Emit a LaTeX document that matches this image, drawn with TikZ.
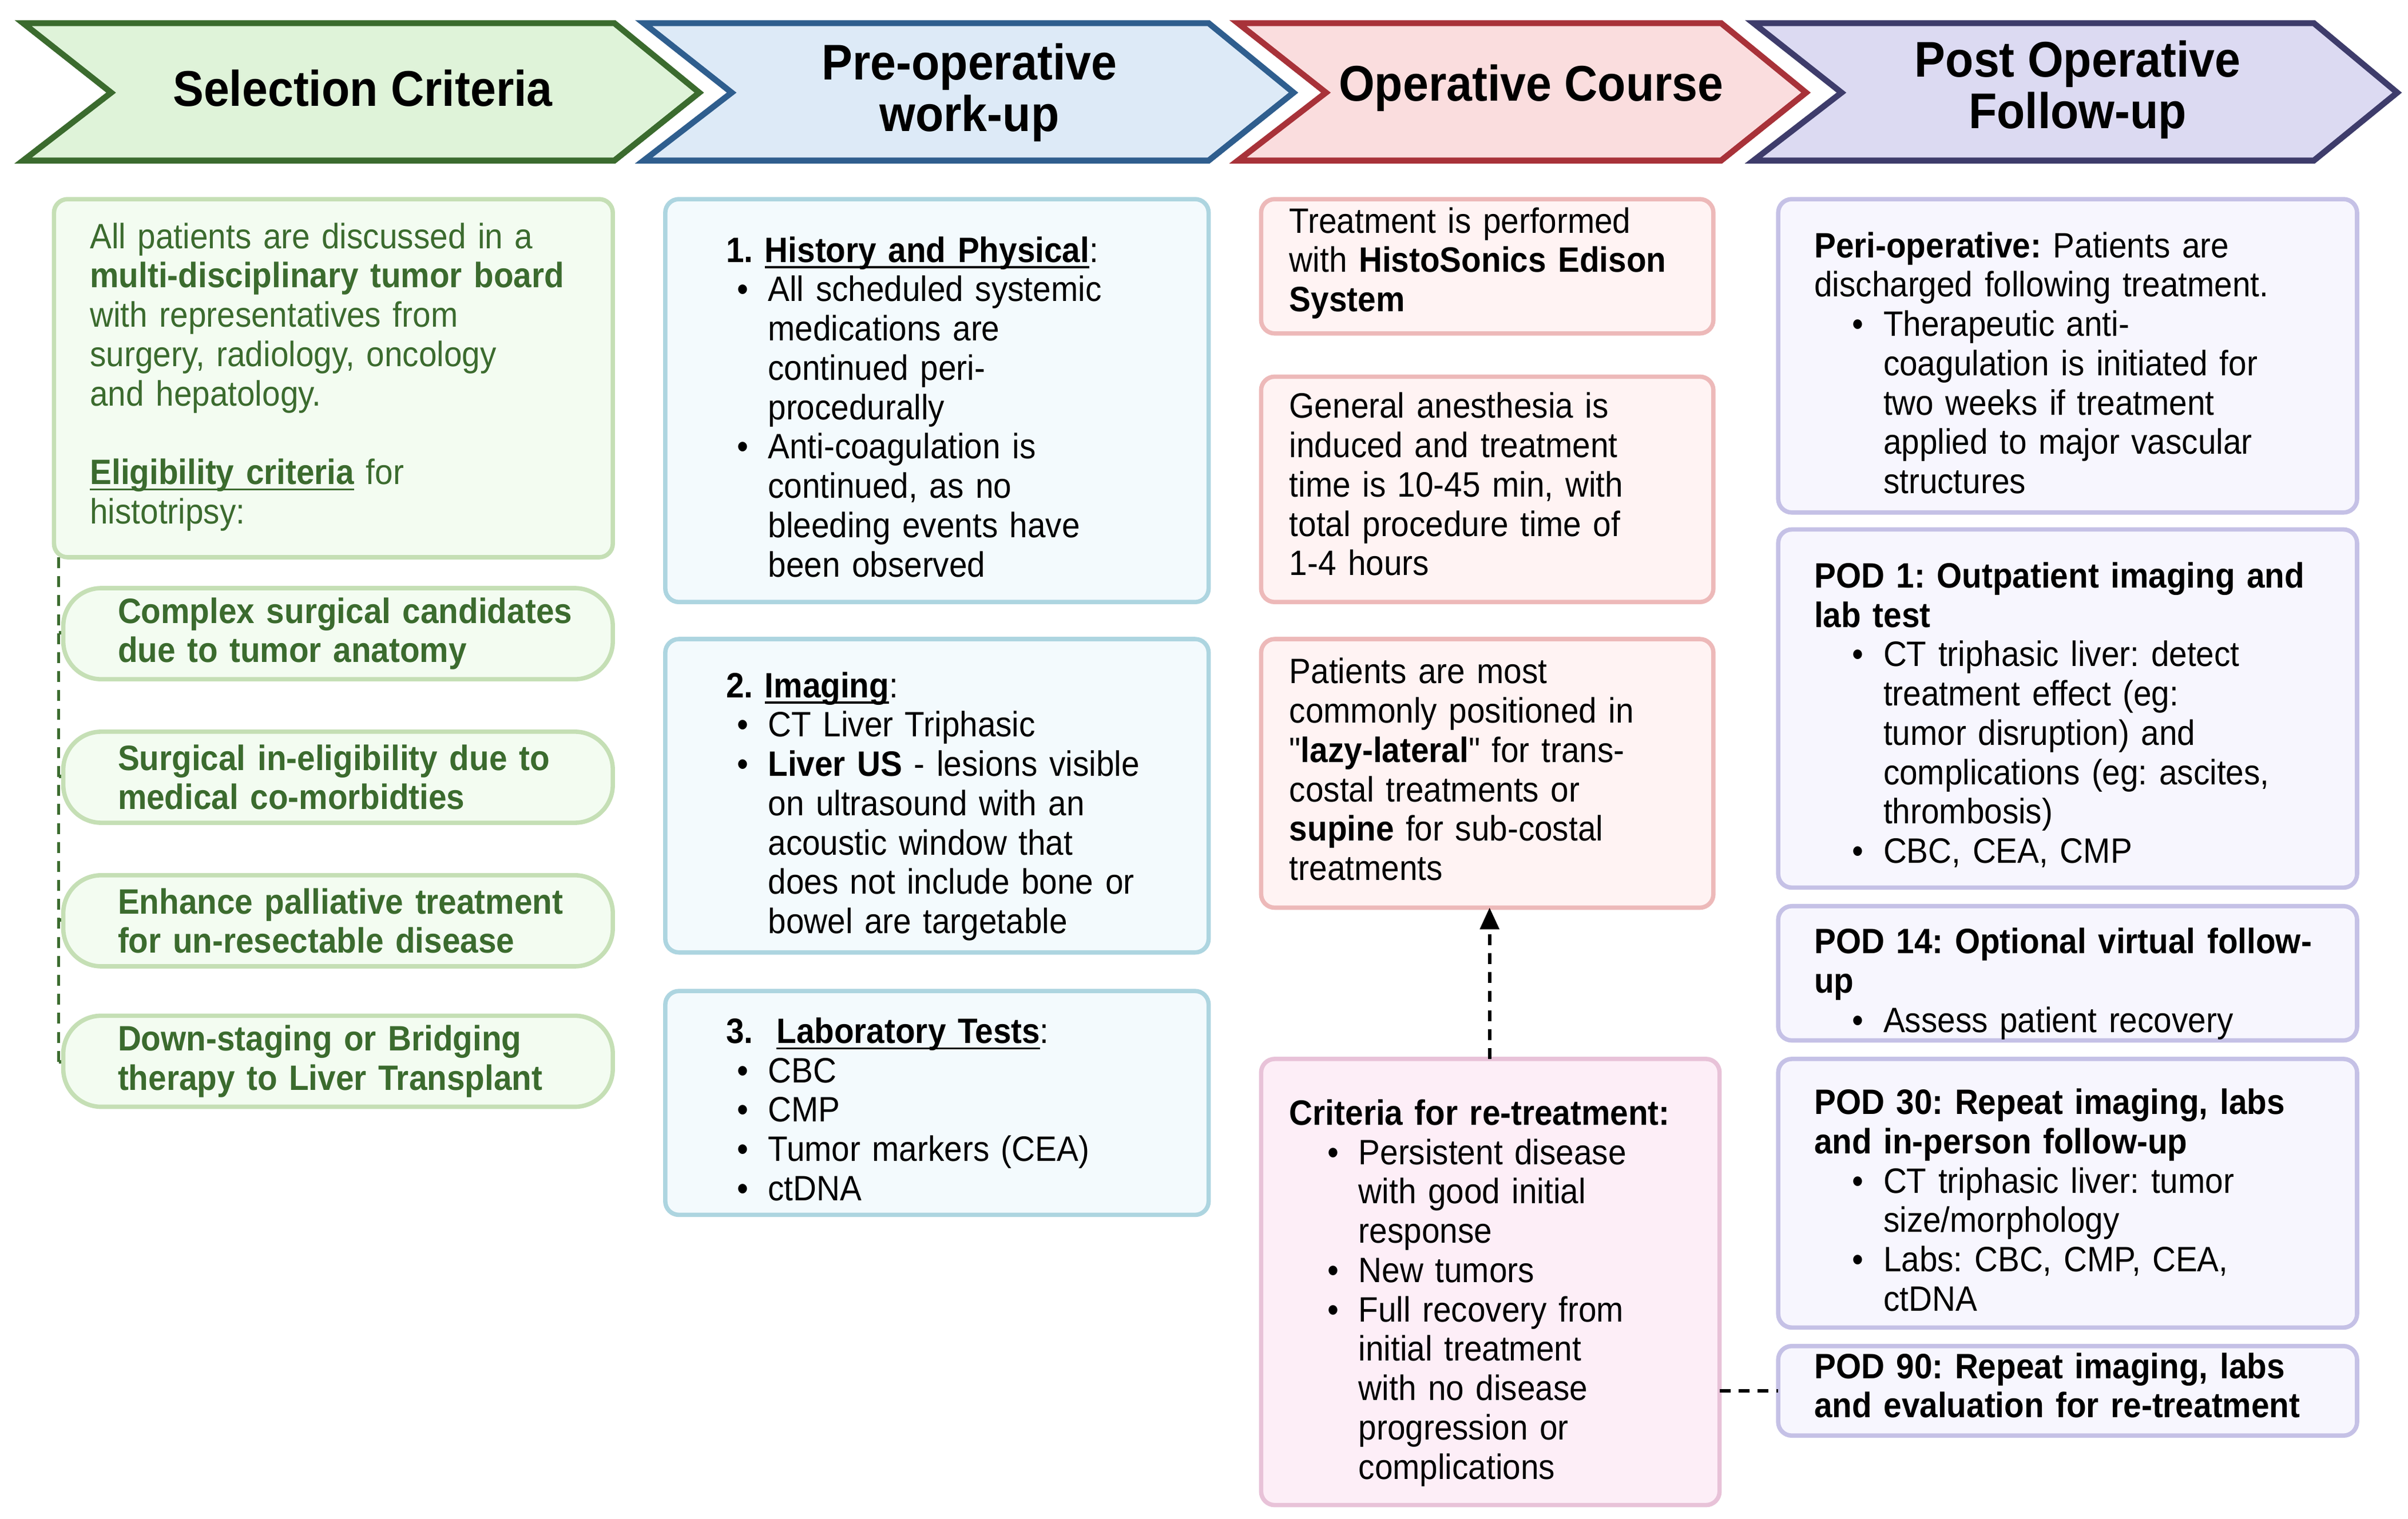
\documentclass[tikz,border=0pt]{standalone}
\usepackage{fontspec}
\setmainfont{Liberation Sans}[FakeStretch=0.92]
\newfontfamily\plainq{Liberation Sans}[FakeStretch=0.92,Ligatures=TeXOff]
\usetikzlibrary{arrows.meta}
\definecolor{gT}{HTML}{3B6B2E}
\tikzset{
 hdr/.style={line width=2.2pt,line join=miter},
 box/.style={rounded corners=5pt,line width=1.6pt,outer sep=0pt,anchor=north west},
 pill/.style={rounded corners=14pt,line width=1.6pt,draw=gB,fill=gF,outer sep=0pt},
 txt/.style={anchor=north west,inner sep=0pt,align=left,font=\fontsize{13}{14.5}\selectfont\frenchspacing,text width=9cm},
 htxt/.style={align=center,font=\fontsize{18.5}{19}\selectfont\bfseries},
 dsh/.style={line width=1.2pt,dash pattern=on 4pt off 3pt},
}
\definecolor{gB}{HTML}{C5DFB5}\definecolor{gF}{HTML}{F3FCF1}
\definecolor{bB}{HTML}{ADD5E0}\definecolor{bF}{HTML}{F3FAFD}
\definecolor{rB}{HTML}{EDB9B9}\definecolor{rF}{HTML}{FFF3F3}
\definecolor{kB}{HTML}{E8C2D8}\definecolor{kF}{HTML}{FDEEF7}
\definecolor{pB}{HTML}{C5C1E6}\definecolor{pF}{HTML}{F7F6FE}
\newcommand{\nl}{\hfil\break}
\newcommand{\bi}[1][0pt]{\par\noindent\hangindent=\dimexpr#1+15.5pt\relax\hangafter=1\hspace*{#1}\makebox[15.5pt][l]{\hspace{4pt}\textbullet}}
\newcommand{\hd}{\par\noindent}
\newcommand{\qq}{{\plainq"}}
\newsavebox{\ulbox}
\newcommand{\myul}[1]{\sbox{\ulbox}{#1}\leavevmode\rlap{\rule[-2.2pt]{\wd\ulbox}{0.7pt}}\usebox{\ulbox}}
\begin{document}
\begin{tikzpicture}[x=0.02cm,y=-0.02cm]
\useasboundingbox (0,0) rectangle (1560,984);
\fill[white] (0,0) rectangle (1560,984);
% headers
\draw[hdr,draw=gT,fill={rgb,255:red,223;green,243;blue,217}] (15,15)--(398,15)--(453,60)--(398,104)--(15,104)--(72,60)--cycle;
\draw[hdr,draw={rgb,255:red,47;green,94;blue,142},fill={rgb,255:red,221;green,234;blue,247}] (417,15)--(783,15)--(838,60)--(783,104)--(417,104)--(474,60)--cycle;
\draw[hdr,draw={rgb,255:red,168;green,50;blue,57},fill={rgb,255:red,250;green,221;blue,222}] (802,15)--(1115,15)--(1170,60)--(1115,104)--(802,104)--(859,60)--cycle;
\draw[hdr,draw={rgb,255:red,62;green,60;blue,107},fill={rgb,255:red,220;green,218;blue,242}] (1136,15)--(1499,15)--(1553,60)--(1499,104)--(1136,104)--(1193,60)--cycle;
\node[htxt] (h1) at (235,57) {Selection Criteria};
\node[htxt] (h2) at (628,60) {Pre-operative\\work-up};
\node[htxt] (h3) at (992,57) {Operative Course};
\node[htxt] (h4) at (1346,58) {Post Operative\\Follow-up};
% green column
\draw[dsh,draw=gT] (38,361)--(38,688);
\foreach \y in {410,503,596,688} \draw[dsh,draw=gT] (38,\y)--(41,\y);
\node[box,draw=gB,fill=gF,minimum width=362*0.02cm,minimum height=232*0.02cm] (g0) at (35,129) {};
\node[txt,text=gT] (g0t) at (58,144) {All patients are discussed in a\nl\textbf{multi-disciplinary tumor board}\nl with representatives from\nl surgery, radiology, oncology\nl and hepatology.\par\vspace{14.5pt}\noindent\myul{\textbf{Eligibility criteria}} for\nl histotripsy:};
\foreach \y/\n/\t in {381/g1/{Complex surgical candidates\\due to tumor anatomy},474/g2/{Surgical in-eligibility due to\\medical co-morbidties},567/g3/{Enhance palliative treatment\\for un-resectable disease},658/g4/{Down-staging or Bridging\\therapy to Liver Transplant}}{
 \node[pill,minimum width=356*0.02cm,minimum height=59*0.02cm,anchor=north west] (\n) at (41,\y) {};
 \node[txt,text=gT,font=\fontsize{13}{14.5}\selectfont\bfseries,anchor=west] at (76,\y+29.5) {\t};
}
% blue column
\node[box,draw=bB,fill=bF,minimum width=352*0.02cm,minimum height=261*0.02cm] (b1) at (431,129) {};
\node[box,draw=bB,fill=bF,minimum width=352*0.02cm,minimum height=203*0.02cm] (b2) at (431,414) {};
\node[box,draw=bB,fill=bF,minimum width=352*0.02cm,minimum height=145*0.02cm] (b3) at (431,642) {};
\node[txt] (b1t) at (470,144) {\hd\textbf{1. \myul{History and Physical}}:\bi All scheduled systemic\nl medications are\nl continued peri-\nl procedurally\bi Anti-coagulation is\nl continued, as no\nl bleeding events have\nl been observed\par};
\node[txt] (b2t) at (470,426) {\hd\textbf{2. \myul{Imaging}}:\bi CT Liver Triphasic\bi \textbf{Liver US} - lesions visible\nl on ultrasound with an\nl acoustic window that\nl does not include bone or\nl bowel are targetable\par};
\node[txt] (b3t) at (470,650) {\hd\textbf{3.\ \ \myul{Laboratory Tests}}:\bi CBC\bi CMP\bi Tumor markers (CEA)\bi ctDNA\par};
% red column
\node[box,draw=rB,fill=rF,minimum width=293*0.02cm,minimum height=87*0.02cm] (r1) at (817,129) {};
\node[box,draw=rB,fill=rF,minimum width=293*0.02cm,minimum height=146*0.02cm] (r2) at (817,244) {};
\node[box,draw=rB,fill=rF,minimum width=293*0.02cm,minimum height=174*0.02cm] (r3) at (817,414) {};
\node[box,draw=kB,fill=kF,minimum width=297*0.02cm,minimum height=289*0.02cm] (k1) at (817,686) {};
\node[txt] (r1t) at (835,134) {Treatment is performed\nl with \textbf{HistoSonics Edison}\nl\textbf{System}};
\node[txt] (r2t) at (835,254) {General anesthesia is\nl induced and treatment\nl time is 10-45 min, with\nl total procedure time of\nl 1-4 hours};
\node[txt] (r3t) at (835,426) {Patients are most\nl commonly positioned in\nl\qq\textbf{lazy-lateral}\qq\ for trans-\nl costal treatments or\nl\textbf{supine} for sub-costal\nl treatments};
\node[txt] (k1t) at (835,703) {\hd\textbf{Criteria for re-treatment:}\bi[10pt]Persistent disease\nl with good initial\nl response\bi[10pt]New tumors\bi[10pt]Full recovery from\nl initial treatment\nl with no disease\nl progression or\nl complications\par};
\draw[dsh,-{Triangle[length=8pt,width=7pt]}] (k1.north-|965,0)--(r3.south-|965,0);
% purple column
\node[box,draw=pB,fill=pF,minimum width=375*0.02cm,minimum height=203*0.02cm] (p1) at (1152,129) {};
\node[box,draw=pB,fill=pF,minimum width=375*0.02cm,minimum height=232*0.02cm] (p2) at (1152,343) {};
\node[box,draw=pB,fill=pF,minimum width=375*0.02cm,minimum height=87*0.02cm] (p3) at (1152,587) {};
\node[box,draw=pB,fill=pF,minimum width=375*0.02cm,minimum height=174*0.02cm] (p4) at (1152,686) {};
\node[box,draw=pB,fill=pF,minimum width=375*0.02cm,minimum height=58*0.02cm] (p5) at (1152,872) {};
\node[txt] (p1t) at (1175,141) {\hd\textbf{Peri-operative:} Patients are\nl discharged following treatment.\bi[10pt]Therapeutic anti-\nl coagulation is initiated for\nl two weeks if treatment\nl applied to major vascular\nl structures\par};
\node[txt] (p2t) at (1175,355) {\hd\textbf{POD 1: Outpatient imaging and}\nl\textbf{lab test}\bi[10pt]CT triphasic liver: detect\nl treatment effect (eg:\nl tumor disruption) and\nl complications (eg: ascites,\nl thrombosis)\bi[10pt]CBC, CEA, CMP\par};
\node[txt] (p3t) at (1175,592) {\hd\textbf{POD 14: Optional virtual follow-}\nl\textbf{up}\bi[10pt]Assess patient recovery\par};
\node[txt] (p4t) at (1175,696) {\hd\textbf{POD 30: Repeat imaging, labs}\nl\textbf{and in-person follow-up}\bi[10pt]CT triphasic liver: tumor\nl size/morphology\bi[10pt]Labs: CBC, CMP, CEA,\nl ctDNA\par};
\node[txt] (p5t) at (1175,876) {\textbf{POD 90: Repeat imaging, labs}\nl\textbf{and evaluation for re-treatment}};
\draw[dsh] (k1.east|-0,901)--(p5.west|-0,901);
\end{tikzpicture}
\end{document}
